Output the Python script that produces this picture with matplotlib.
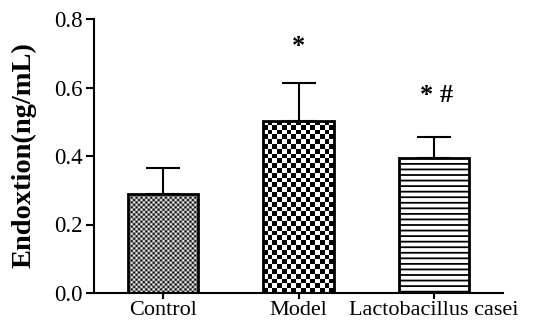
import numpy as np
import matplotlib
matplotlib.use("Agg")
import matplotlib.pyplot as plt

categories = ["Control", "Model", "Lactobacillus casei"]
means = [0.289, 0.503, 0.393]
errors = [0.076, 0.109, 0.062]
marks = ["", "*", "* #"]
mark_y = [0.0, 0.702, 0.558]
yticks = [0.0, 0.2, 0.4, 0.6, 0.8]

plt.rcParams['font.family'] = ['Liberation Serif', 'DejaVu Serif']
plt.rcParams['hatch.linewidth'] = 1.3

W, H = 542, 324
fig = plt.figure(figsize=(W / 100, H / 100), dpi=100)
ax = fig.add_axes([94 / W, 31 / H, 409 / W, 274 / H])

x = np.arange(len(categories))
bw = 0.52
ax.set_xlim(-0.51, 2.51)
ax.set_ylim(0, 0.8)

styles = [("checker", 2.4), ("checker", 4.8), ("hatch", None)]
bars = ax.bar(x, means, width=bw, facecolor='white', edgecolor='black',
              linewidth=2, zorder=3)
for b, (kind, cell) in zip(bars, styles):
    if kind == "hatch":
        b.set_hatch('---')
        b.set_facecolor('white')
    else:
        b.set_facecolor('none')
        x0, x1 = b.get_x(), b.get_x() + b.get_width()
        y0, y1 = 0, b.get_height()
        p0 = ax.transData.transform((x0, y0))
        p1 = ax.transData.transform((x1, y1))
        nx = max(1, int(round((p1[0] - p0[0]) / cell)))
        ny = max(1, int(round((p1[1] - p0[1]) / cell)))
        ii, jj = np.meshgrid(np.arange(nx), np.arange(ny))
        arr = ((ii + jj) % 2).astype(float)
        im = ax.imshow(arr, cmap='gray', extent=[x0, x1, y0, y1], aspect='auto',
                       interpolation='antialiased', origin='lower', zorder=2, vmin=0, vmax=1)
        im.set_clip_path(b)

ax.errorbar(x, means, yerr=[np.zeros(len(means)), errors], fmt='none',
            ecolor='black', elinewidth=1.5, capsize=12.5, capthick=1.5, zorder=2.5)

ax.set_xlim(-0.51, 2.51)
ax.set_ylim(0, 0.8)

for xi, t, yy in zip(x, marks, mark_y):
    if t:
        ax.text(xi + (0.02 if ' ' in t else 0), yy, t, ha='center', va='baseline',
                fontsize=19, fontweight='bold')

ax.set_xticks(x)
ax.set_xticklabels(categories, fontsize=16)
ax.set_yticks(yticks)
ax.set_yticklabels([f"{v:.1f}" for v in yticks], fontsize=16.5)
ax.set_ylabel("Endoxtion(ng/mL)", fontsize=20.5, fontweight='bold')
ax.yaxis.set_label_coords(-0.1394, 0.504)

for s in ['top', 'right']:
    ax.spines[s].set_visible(False)
for s in ['left', 'bottom']:
    ax.spines[s].set_linewidth(1.5)
ax.tick_params(axis='both', direction='out', width=1.5, colors='black')
ax.tick_params(axis='y', pad=2, length=6)
ax.tick_params(axis='x', pad=1.5, length=4.5)

fig.savefig("out.png", dpi=100)
